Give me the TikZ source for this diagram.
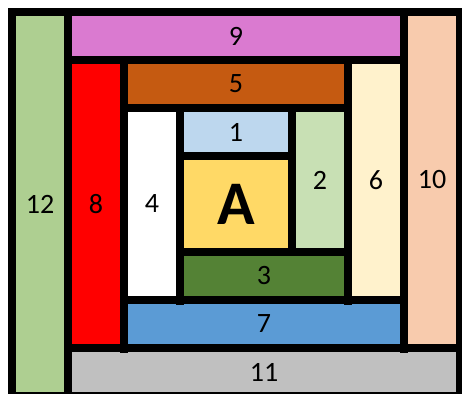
\documentclass[tikz,border=0pt]{standalone}
\usepackage{fontspec}
\setmainfont{Carlito}
\definecolor{cpink}{HTML}{DA7AD0}
\definecolor{cgreenA}{HTML}{AECF91}
\definecolor{cred}{HTML}{FF0000}
\definecolor{corange}{HTML}{C55A11}
\definecolor{ccream}{HTML}{FFF2CC}
\definecolor{cpeach}{HTML}{F8CBAD}
\definecolor{clblue}{HTML}{BDD7EE}
\definecolor{cyellow}{HTML}{FFD966}
\definecolor{clgreen}{HTML}{C8E0B4}
\definecolor{cdgreen}{HTML}{548235}
\definecolor{cblue}{HTML}{5B9BD5}
\definecolor{cgray}{HTML}{C0C0C0}
\begin{document}
\begin{tikzpicture}[x=1pt,y=-1pt,
  cell/.style={draw=none,inner sep=0pt,outer sep=0pt,font=\fontsize{28}{30}\selectfont,text=black},
  bigcell/.style={cell,font=\fontsize{62}{64}\selectfont\bfseries}]
\useasboundingbox (0,0) rectangle (462,394);
\fill[black] (8,8) rectangle (462,394);
\node[cell,fill=cpink,minimum width=328pt,minimum height=40pt] (n9) at (236,36) {9};
\node[cell,fill=cgreenA,minimum width=48pt,minimum height=376pt] (n12) at (40,204) {12};
\node[cell,fill=cred,minimum width=48pt,minimum height=280pt] (n8) at (96,204) {8};
\node[cell,fill=corange,minimum width=216pt,minimum height=40pt] (n5) at (236,84) {5};
\node[cell,fill=ccream,minimum width=48pt,minimum height=232pt] (n6) at (376,180) {6};
\node[cell,fill=cpeach,minimum width=48pt,minimum height=328pt] (n10) at (432,180) {10};
\node[cell,fill=white,minimum width=48pt,minimum height=184pt] (n4) at (152,204) {4};
\node[cell,fill=clblue,minimum width=104pt,minimum height=40pt] (n1) at (236,132) {1};
\node[bigcell,fill=cyellow,minimum width=104pt,minimum height=88pt] (nA) at (236,204) {A};
\node[cell,fill=clgreen,minimum width=48pt,minimum height=136pt] (n2) at (320,180) {2};
\node[cell,fill=cdgreen,minimum width=160pt,minimum height=40pt] (n3) at (264,276) {3};
\node[cell,fill=cblue,minimum width=272pt,minimum height=40pt] (n7) at (264,324) {7};
\node[cell,fill=cgray,minimum width=384pt,minimum height=40pt] (n11) at (264,372) {11};
\fill[black] (176,304) rectangle (184,304.7);
\fill[black] (344,304) rectangle (352,304.7);
\fill[black] (120,352) rectangle (128,352.7);
\fill[black] (400,352) rectangle (408,352.7);
\end{tikzpicture}
\end{document}
